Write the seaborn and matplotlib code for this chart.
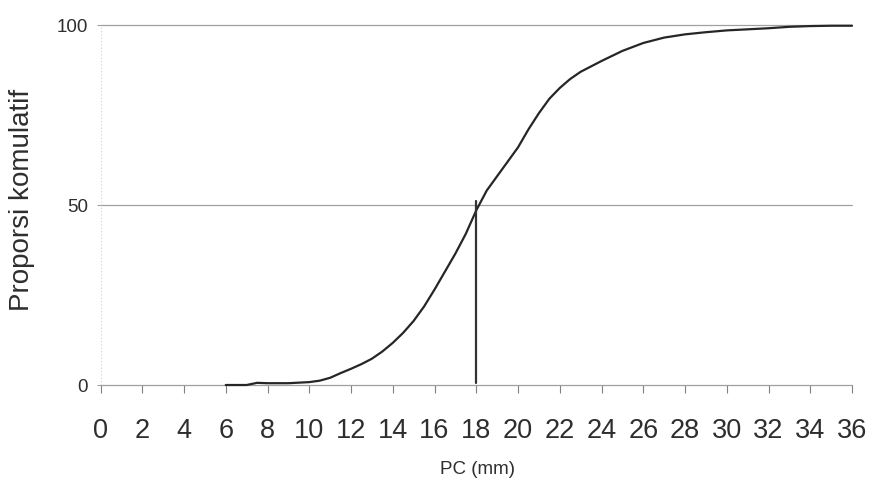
import matplotlib
matplotlib.use("Agg")
import matplotlib.pyplot as plt
import seaborn as sns
import pandas as pd

# Data
pc_mm = [6, 7, 7.5, 8, 9, 10, 10.5, 11, 11.5, 12, 12.5, 13, 13.5, 14, 14.5, 15,
         15.5, 16, 16.5, 17, 17.5, 18, 18.5, 19, 19.5, 20, 20.5, 21, 21.5, 22,
         22.5, 23, 24, 25, 26, 27, 28, 29, 30, 31, 32, 33, 34, 35, 36]
proporsi = [0, 0, 0.6, 0.5, 0.5, 0.8, 1.2, 2, 3.3, 4.5, 5.8, 7.3, 9.3, 11.7, 14.5, 17.8,
            21.8, 26.5, 31.5, 36.5, 42, 48.5, 54, 58, 62, 66, 71, 75.5, 79.5, 82.5,
            85, 87, 90, 92.8, 95, 96.5, 97.4, 98, 98.5, 98.8, 99.1, 99.5, 99.7, 99.8, 99.8]
x_ticks = list(range(0, 37, 2))
y_ticks = [0, 50, 100]
grid_levels = [0, 50, 100]
median_x = 18
median_y = 50

sns.set_theme(style="white")
plt.rcParams['font.family'] = ['Liberation Sans', 'DejaVu Sans']

fig = plt.figure(figsize=(8.72, 4.87), dpi=100)
ax = fig.add_axes([100.5 / 872, 1 - 385 / 487, 751.5 / 872, 360 / 487])

df = pd.DataFrame({"PC": pc_mm, "Proporsi": proporsi})

for lvl in grid_levels:
    ax.axhline(lvl, color="#a0a0a0", lw=0.9, zorder=1, clip_on=False)
ax.plot([0, 0], [0, 100], color="#d0d0d0", lw=0.8, ls=(0, (1, 2)), zorder=1)

sns.lineplot(data=df, x="PC", y="Proporsi", ax=ax, color="#262626", lw=1.6,
             zorder=3, clip_on=False)
ax.plot([median_x, median_x], [0.5, median_y + 1], color="#333333", lw=1.6, zorder=3)

ax.set_xlim(0, 36)
ax.set_ylim(0, 100)
ax.set_xticks(x_ticks)
ax.set_xticklabels([str(t) for t in x_ticks])
ax.set_yticks(y_ticks)
ax.set_yticklabels([str(t) for t in y_ticks])

for s in ["top", "right", "left", "bottom"]:
    ax.spines[s].set_visible(False)

ax.tick_params(axis="x", which="both", bottom=True, direction="out", length=6,
               width=0.8, color="#808080", labelsize=19.5, pad=18, labelcolor="#2e2e2e")
ax.tick_params(axis="y", which="both", left=True, direction="out", length=3,
               width=0.8, color="#a0a0a0", labelsize=13.5, pad=6, labelcolor="#2e2e2e")

ax.set_xlabel("PC (mm)", fontsize=13.5, color="#2e2e2e")
ax.xaxis.set_label_coords(0.501, -0.236)
ax.xaxis.label.set_verticalalignment("center")
ax.set_ylabel("Proporsi komulatif", fontsize=20, color="#2e2e2e")
ax.yaxis.set_label_coords(-0.1045, 0.514)
ax.yaxis.label.set_verticalalignment("center")

ax.grid(False)
ax.set_facecolor("white")
fig.patch.set_facecolor("white")

fig.savefig("out.png", dpi=100)
